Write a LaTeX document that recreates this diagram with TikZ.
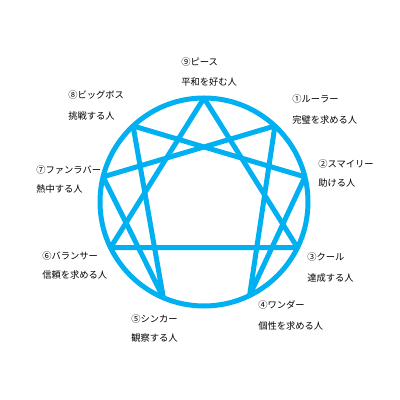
\documentclass[tikz,border=0pt]{standalone}
\usepackage{fontspec}
\newfontfamily\jpfont{Noto Sans CJK JP}
\usetikzlibrary{calc}
\definecolor{ennblue}{RGB}{0,176,240}
\tikzset{
  enn/.style={draw=ennblue, line width=1.25mm, line join=round},
  lbl/.style={anchor=west, inner sep=0pt, font=\jpfont\fontsize{6.6pt}{8pt}\selectfont, text=black}
}
\begin{document}
\begin{tikzpicture}[x=0.25mm,y=-0.25mm]
\useasboundingbox (0,0) rectangle (400,400);
\coordinate (c) at (204,202);
\coordinate (p9) at ($(c)+(-90:104)$);
\coordinate (p1) at ($(c)+(-47:104)$);
\coordinate (p2) at ($(c)+(-14:104)$);
\coordinate (p3) at ($(c)+(26:104)$);
\coordinate (p4) at ($(c)+(64:104)$);
\coordinate (p5) at ($(c)+(113:104)$);
\coordinate (p6) at ($(c)+(154:104)$);
\coordinate (p7) at ($(c)+(194:104)$);
\coordinate (p8) at ($(c)+(227:104)$);
\draw[enn] (c) circle (104);
\draw[enn] (p9) -- (p3) -- (p6) -- cycle;
\draw[enn] (p1) -- (p4) -- (p2) -- (p8) -- (p5) -- (p7) -- cycle;
\node[lbl] (n9a) at (181,62) {⑨ピース};
\node[lbl] (n9b) at (181,82) {平和を好む人};
\node[lbl] (n1a) at (292,99) {①ルーラー};
\node[lbl] (n1b) at (292,120) {完璧を求める人};
\node[lbl] (n8a) at (68,95) {⑧ビッグボス};
\node[lbl] (n8b) at (68,116) {挑戦する人};
\node[lbl] (n7a) at (36,170) {⑦ファンラバー};
\node[lbl] (n7b) at (36,189) {熱中する人};
\node[lbl] (n2a) at (318,164) {②スマイリー};
\node[lbl] (n2b) at (318,183) {助ける人};
\node[lbl] (n6a) at (42,256) {⑥バランサー};
\node[lbl] (n6b) at (42,275) {信頼を求める人};
\node[lbl] (n3a) at (307,257) {③クール};
\node[lbl] (n3b) at (307,278) {達成する人};
\node[lbl] (n5a) at (131,319) {⑤シンカー};
\node[lbl] (n5b) at (131,338) {観察する人};
\node[lbl] (n4a) at (258,305) {④ワンダー};
\node[lbl] (n4b) at (258,326) {個性を求める人};
\end{tikzpicture}
\end{document}
